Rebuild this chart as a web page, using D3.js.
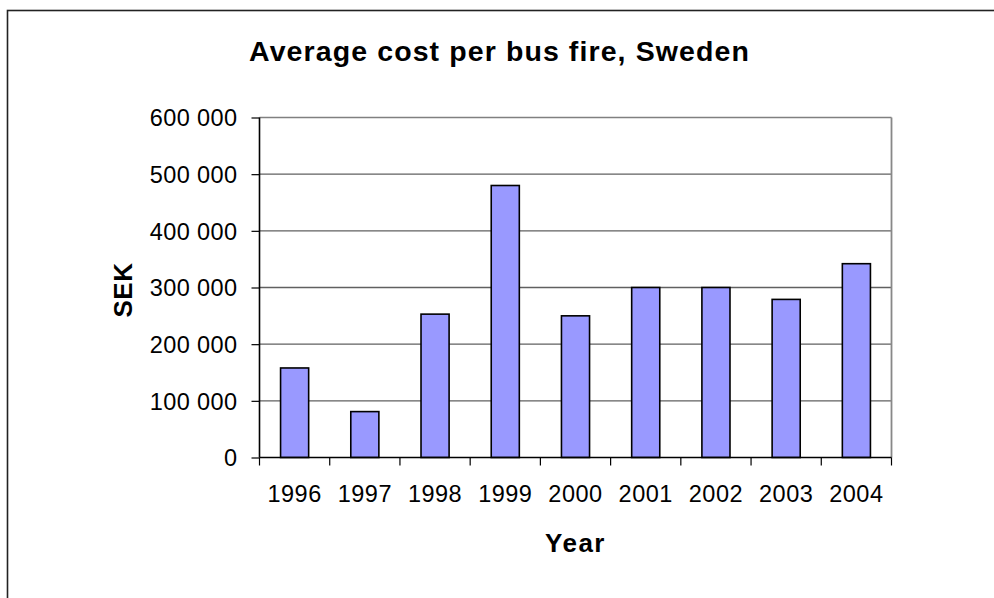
<!DOCTYPE html>
<html>
<head>
<meta charset="utf-8">
<script src="https://cdn.jsdelivr.net/npm/d3@7"></script>
<style>
  body { margin: 0; background: #fff; }
  svg text { font-family: "Liberation Sans", Arial, sans-serif; fill: #000; }
</style>
</head>
<body>
<div class="canvas"></div>
<script>
// chart data
const years = ['1996', '1997', '1998', '1999', '2000', '2001', '2002', '2003', '2004'];
const costs = [158000, 81000, 253000, 480000, 250000, 300000, 300000, 279000, 342000];
const yTicks = [0, 100000, 200000, 300000, 400000, 500000, 600000];

// dimensions
const width = 994, height = 598;
const margin = {top: 117.5, right: 102.5, bottom: 140.5, left: 259.5};
const graphWidth = width - margin.left - margin.right;
const graphHeight = height - margin.top - margin.bottom;

const svg = d3.select('.canvas')
    .append('svg')
    .attr('width', width)
    .attr('height', height);

// outer chart frame, runs off the right and bottom edges
svg.append('rect')
    .attr('x', 7.5).attr('y', 10.5)
    .attr('width', 1100).attr('height', 700)
    .attr('fill', 'none')
    .attr('stroke', '#222')
    .attr('stroke-width', 1.6);

svg.append('text')
    .attr('x', 499.5).attr('y', 61)
    .attr('text-anchor', 'middle')
    .attr('font-size', 28.5)
    .attr('font-weight', 'bold')
    .attr('letter-spacing', 1.1)
    .text('Average cost per bus fire, Sweden');

const graph = svg.append('g')
    .attr('transform', `translate(${margin.left},${margin.top})`);

const xScale = d3.scaleBand()
    .domain(years)
    .range([0, graphWidth])
    .paddingInner(0.6)
    .paddingOuter(0.3);

const yScale = d3.scaleLinear()
    .domain([0, 600000])
    .range([graphHeight, 0]);

const locale = d3.formatLocale({decimal: ',', thousands: ' ', grouping: [3], currency: ['', ' kr']});
const fmt = locale.format(',d');

// gridlines
graph.append('g')
    .selectAll('line')
    .data(yTicks.filter(d => d > 0))
    .join('line')
        .attr('x1', 0).attr('x2', graphWidth)
        .attr('y1', d => yScale(d)).attr('y2', d => yScale(d))
        .attr('stroke', d => d === 600000 ? '#808080' : '#606060')
        .attr('stroke-width', 1.4);

// right border of plot area
graph.append('line')
    .attr('x1', graphWidth).attr('x2', graphWidth)
    .attr('y1', 0).attr('y2', graphHeight)
    .attr('stroke', '#888')
    .attr('stroke-width', 1.8);

// bars
graph.selectAll('rect.bar')
    .data(costs)
    .join('rect')
        .attr('class', 'bar')
        .attr('x', (d, i) => xScale(years[i]))
        .attr('y', d => yScale(d))
        .attr('width', xScale.bandwidth())
        .attr('height', d => graphHeight - yScale(d))
        .attr('fill', '#9999FF')
        .attr('stroke', '#000')
        .attr('stroke-width', 1.6);

// y axis
const yAxis = d3.axisLeft(yScale)
    .tickValues(yTicks)
    .tickSize(8)
    .tickPadding(14)
    .tickFormat(fmt);

const yAxisGroup = graph.append('g').call(yAxis);
yAxisGroup.select('.domain').attr('stroke', '#000').attr('stroke-width', 1.6).attr('d', `M0,0V${graphHeight}`);
yAxisGroup.selectAll('.tick line').attr('stroke', '#000').attr('stroke-width', 1.2);
yAxisGroup.selectAll('text')
    .attr('font-size', 23.5)
    .attr('letter-spacing', 0.4)
    .attr('font-family', '"Liberation Sans", Arial, sans-serif')
    .attr('dy', '0.35em');

// x axis: ticks sit between categories
const step = xScale.step();
const xAxisGroup = graph.append('g')
    .attr('transform', `translate(0,${graphHeight})`);
xAxisGroup.append('line')
    .attr('x1', 0).attr('x2', graphWidth)
    .attr('stroke', '#000').attr('stroke-width', 1.6);
xAxisGroup.selectAll('line.tick')
    .data(d3.range(years.length + 1))
    .join('line')
        .attr('class', 'tick')
        .attr('x1', i => i * step).attr('x2', i => i * step)
        .attr('y1', 0).attr('y2', 8)
        .attr('stroke', '#000').attr('stroke-width', 1.2);
xAxisGroup.selectAll('text')
    .data(years)
    .join('text')
        .attr('x', d => xScale(d) + xScale.bandwidth() / 2)
        .attr('y', 44.5)
        .attr('text-anchor', 'middle')
        .attr('font-size', 23.5)
        .attr('letter-spacing', 0.5)
        .text(d => d);

// axis titles
svg.append('text')
    .attr('x', 575.5).attr('y', 551.5)
    .attr('text-anchor', 'middle')
    .attr('font-size', 26)
    .attr('font-weight', 'bold')
    .attr('letter-spacing', 1.5)
    .text('Year');

svg.append('text')
    .attr('transform', 'translate(132,290) rotate(-90)')
    .attr('text-anchor', 'middle')
    .attr('font-size', 26)
    .attr('font-weight', 'bold')
    .attr('letter-spacing', 0.5)
    .text('SEK');
</script>
</body>
</html>
